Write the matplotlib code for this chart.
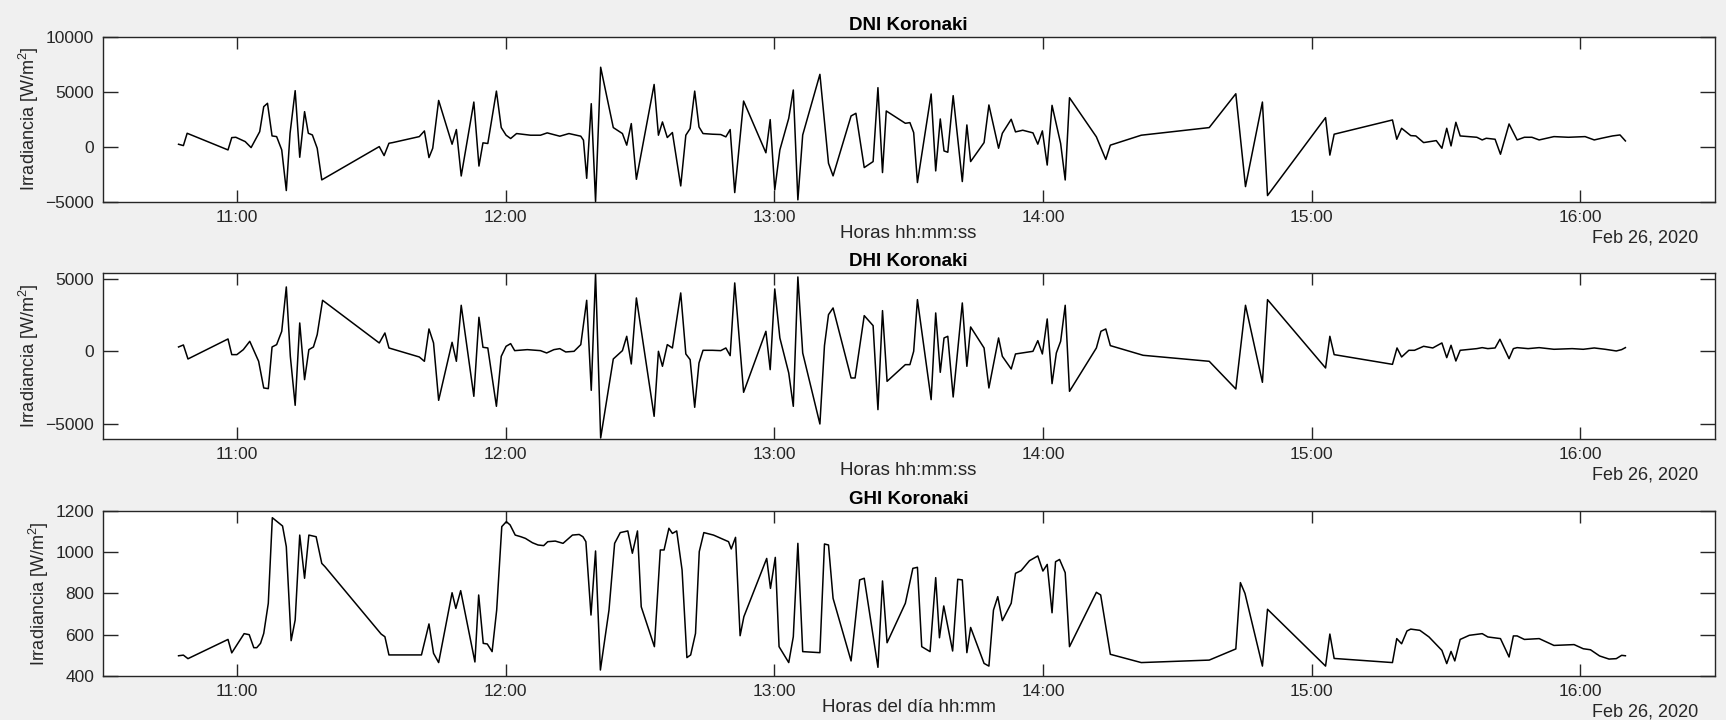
import pandas as pd
import matplotlib
matplotlib.use('Agg')
import matplotlib.pyplot as plt
import matplotlib.dates as mdates

plt.rcParams['font.family'] = ['Liberation Sans', 'DejaVu Sans']
plt.rcParams['mathtext.fontset'] = 'custom'
plt.rcParams['mathtext.rm'] = 'Liberation Sans'
plt.rcParams['mathtext.default'] = 'regular'

# Hora del dia (decimal) y valores
dni_hours = [10.783, 10.801, 10.815, 10.967, 10.981, 10.996, 11.031, 11.053, 11.085, 11.100,
             11.114, 11.131, 11.148, 11.167, 11.184, 11.198, 11.217, 11.234, 11.252, 11.266,
             11.281, 11.299, 11.316, 11.530, 11.548, 11.566, 11.580, 11.679, 11.698, 11.715,
             11.729, 11.751, 11.801, 11.817, 11.835, 11.882, 11.901, 11.916, 11.934, 11.966,
             11.984, 12.002, 12.019, 12.041, 12.093, 12.130, 12.155, 12.202, 12.236, 12.280,
             12.290, 12.302, 12.319, 12.335, 12.354, 12.401, 12.435, 12.451, 12.468, 12.487,
             12.553, 12.569, 12.584, 12.602, 12.621, 12.652, 12.671, 12.687, 12.704, 12.720,
             12.735, 12.770, 12.801, 12.820, 12.836, 12.853, 12.886, 12.969, 12.985, 13.002,
             13.021, 13.054, 13.071, 13.088, 13.106, 13.170, 13.202, 13.219, 13.286, 13.304,
             13.335, 13.368, 13.386, 13.403, 13.417, 13.488, 13.505, 13.519, 13.533, 13.584,
             13.601, 13.618, 13.632, 13.646, 13.666, 13.700, 13.717, 13.731, 13.781, 13.799,
             13.835, 13.849, 13.882, 13.898, 13.925, 13.963, 13.981, 13.998, 14.016, 14.034,
             14.066, 14.083, 14.099, 14.199, 14.234, 14.251, 14.366, 14.619, 14.718, 14.754,
             14.817, 14.836, 15.052, 15.068, 15.084, 15.301, 15.317, 15.335, 15.369, 15.388,
             15.417, 15.464, 15.485, 15.503, 15.519, 15.537, 15.553, 15.615, 15.635, 15.650,
             15.683, 15.703, 15.735, 15.765, 15.792, 15.820, 15.847, 15.902, 15.956, 16.018,
             16.052, 16.079, 16.120, 16.148, 16.168]
dni_values = [212, 91, 1212, -303, 818, 848, 455, -91, 1360, 3636,
              3939, 970, 909, -303, -4000, 1212, 5090, -970, 3180, 1212,
              1060, -150, -3030, 0, -818, 303, 364, 909, 1424, -1000,
              -150, 4200, 216, 1550, -2675, 4054, -1771, 342, 282, 5050,
              1730, 1036, 735, 1187, 1036, 1036, 1248, 946, 1187, 946,
              584, -2887, 3904, -5000, 7223, 1730, 1187, 131, 2093, -2977,
              5654, 1036, 2244, 825, 1278, -3581, 1036, 1640, 5050, 1791,
              1187, 1127, 1097, 886, 1550, -4185, 4145, -563, 2455, -3943,
              -303, 2575, 5150, -4848, 1060, 6575, -1515, -2666, 2787, 3030,
              -1909, -1363, 5363, -2363, 3242, 2121, 2182, 1273, -3272, 4787,
              -2212, 2515, -394, -515, 4636, -3181, 1970, -1363, 364, 3788,
              -150, 1212, 2485, 1338, 1489, 1248, 222, 1429, -1680, 3753,
              282, -3038, 4447, 886, -1167, 131, 1036, 1730, 4809, -3641,
              4054, -4456, 2636, -774, 1127, 2424, 667, 1667, 1000, 970,
              364, 545, -150, 1667, 61, 2212, 970, 848, 606, 758,
              667, -697, 2060, 606, 848, 848, 606, 909, 848, 909,
              606, 758, 970, 1060, 515]

dhi_hours = [10.783, 10.801, 10.818, 10.967, 10.981, 11.000, 11.024, 11.048, 11.081, 11.100,
             11.117, 11.131, 11.148, 11.167, 11.184, 11.199, 11.217, 11.234, 11.252, 11.268,
             11.285, 11.299, 11.319, 11.530, 11.551, 11.566, 11.679, 11.698, 11.715, 11.732,
             11.751, 11.801, 11.817, 11.835, 11.882, 11.901, 11.916, 11.934, 11.966, 11.984,
             12.002, 12.019, 12.034, 12.081, 12.130, 12.153, 12.180, 12.202, 12.224, 12.255,
             12.280, 12.302, 12.319, 12.335, 12.354, 12.401, 12.435, 12.451, 12.468, 12.487,
             12.553, 12.569, 12.584, 12.602, 12.621, 12.652, 12.671, 12.687, 12.704, 12.720,
             12.735, 12.770, 12.801, 12.820, 12.836, 12.853, 12.886, 12.969, 12.985, 13.002,
             13.021, 13.054, 13.071, 13.088, 13.106, 13.170, 13.187, 13.202, 13.219, 13.286,
             13.301, 13.335, 13.368, 13.386, 13.403, 13.420, 13.488, 13.505, 13.519, 13.533,
             13.584, 13.601, 13.618, 13.632, 13.646, 13.666, 13.700, 13.717, 13.731, 13.781,
             13.799, 13.835, 13.849, 13.882, 13.898, 13.963, 13.981, 13.998, 14.016, 14.034,
             14.050, 14.066, 14.083, 14.099, 14.199, 14.216, 14.234, 14.251, 14.373, 14.619,
             14.718, 14.754, 14.817, 14.836, 15.052, 15.068, 15.084, 15.301, 15.318, 15.335,
             15.362, 15.383, 15.417, 15.451, 15.485, 15.503, 15.519, 15.537, 15.553, 15.615,
             15.635, 15.656, 15.683, 15.701, 15.735, 15.751, 15.765, 15.806, 15.847, 15.902,
             15.970, 16.011, 16.052, 16.093, 16.134, 16.154, 16.168]
dhi_values = [300, 438, -530, 852, -230, -230, 115, 691, -691, -2534,
              -2580, 300, 461, 1382, 4447, -345, -3732, 1958, -1958, 115,
              300, 1152, 3525, 576, 1267, 230, -392, -691, 1544, 576,
              -3387, 622, -691, 3180, -3110, 2350, 277, 230, -3801, -345,
              346, 530, 46, 115, 46, -115, 115, 184, -46, 0,
              461, 3525, -2695, 5369, -5990, -530, 46, 1037, -875, 3687,
              -4493, 0, -1037, 461, 230, 4033, -184, -576, -3870, -806,
              69, 69, 46, 230, -300, 4724, -2833, 1382, -1267, 4309,
              922, -1498, -3802, 5138, -115, -5023, 392, 2534, 2995, -1843,
              -1843, 2465, 1774, -4032, 2811, -2074, -922, -922, 0, 3571,
              -3341, 2650, -1452, 922, 1037, -3157, 3341, -1037, 1682, 230,
              -2534, 922, -345, -1221, -184, 0, 737, -184, 2235, -2235,
              -115, 691, 3180, -2765, 230, 1382, 1544, 392, -276, -691,
              -2604, 3180, -2143, 3571, -1152, 1037, -230, -901, 231, -393,
              69, 69, 346, 231, 577, -439, 416, -670, 69, 185,
              254, 185, 231, 832, -508, 185, 254, 185, 254, 139,
              185, 139, 231, 139, 23, 116, 254]

ghi_hours = [10.783, 10.801, 10.818, 10.967, 10.981, 11.027, 11.046, 11.063, 11.074, 11.088,
             11.100, 11.117, 11.132, 11.170, 11.184, 11.202, 11.217, 11.234, 11.252, 11.268,
             11.295, 11.316, 11.328, 11.537, 11.551, 11.566, 11.687, 11.715, 11.732, 11.751,
             11.801, 11.815, 11.833, 11.886, 11.900, 11.917, 11.932, 11.950, 11.967, 11.986,
             12.003, 12.017, 12.036, 12.057, 12.074, 12.100, 12.121, 12.142, 12.157, 12.185,
             12.214, 12.249, 12.274, 12.288, 12.299, 12.318, 12.335, 12.353, 12.385, 12.406,
             12.427, 12.455, 12.472, 12.491, 12.505, 12.554, 12.576, 12.590, 12.608, 12.621,
             12.637, 12.657, 12.675, 12.689, 12.707, 12.721, 12.738, 12.774, 12.830, 12.840,
             12.856, 12.873, 12.887, 12.972, 12.986, 13.004, 13.018, 13.054, 13.071, 13.088,
             13.106, 13.170, 13.187, 13.202, 13.219, 13.286, 13.318, 13.335, 13.386, 13.403,
             13.420, 13.488, 13.516, 13.533, 13.549, 13.580, 13.601, 13.615, 13.631, 13.664,
             13.683, 13.700, 13.717, 13.731, 13.781, 13.799, 13.816, 13.832, 13.849, 13.882,
             13.898, 13.919, 13.950, 13.981, 14.000, 14.016, 14.034, 14.047, 14.062, 14.083,
             14.099, 14.199, 14.215, 14.251, 14.366, 14.619, 14.718, 14.735, 14.752, 14.817,
             14.836, 15.052, 15.068, 15.084, 15.301, 15.317, 15.335, 15.355, 15.369, 15.403,
             15.437, 15.485, 15.503, 15.519, 15.533, 15.553, 15.587, 15.635, 15.656, 15.703,
             15.735, 15.751, 15.765, 15.792, 15.847, 15.902, 15.977, 16.011, 16.038, 16.072,
             16.107, 16.134, 16.154, 16.168]
ghi_values = [498, 501, 484, 577, 512, 605, 600, 537, 537, 558,
              606, 752, 1166, 1126, 1026, 571, 671, 1082, 873, 1082,
              1074, 945, 929, 603, 590, 502, 502, 652, 510, 465,
              803, 727, 813, 468, 792, 558, 555, 518, 719, 1123,
              1147, 1131, 1082, 1074, 1066, 1045, 1034, 1031, 1050, 1053,
              1042, 1082, 1085, 1074, 1050, 695, 1005, 429, 719, 1042,
              1094, 1102, 994, 1102, 735, 542, 1010, 1010, 1115, 1090,
              1102, 913, 489, 502, 606, 1002, 1094, 1082, 1050, 1015,
              1071, 595, 687, 969, 824, 974, 542, 465, 590, 1042,
              518, 513, 1039, 1034, 776, 473, 865, 873, 442, 860,
              561, 752, 921, 926, 542, 518, 876, 585, 739, 521,
              868, 865, 513, 635, 461, 448, 719, 784, 668, 752,
              897, 910, 958, 981, 908, 940, 706, 953, 964, 900,
              542, 805, 792, 505, 465, 477, 531, 852, 800, 448,
              723, 448, 603, 485, 465, 581, 556, 618, 627, 621,
              589, 524, 460, 519, 473, 577, 597, 605, 589, 581,
              492, 594, 594, 577, 581, 548, 552, 532, 527, 497,
              482, 484, 500, 498]

titles = ['DNI Koronaki', 'DHI Koronaki', 'GHI Koronaki']
xlabels = ['Horas hh:mm:ss', 'Horas hh:mm:ss', 'Horas del día hh:mm']
y_limits = [(-5000, 10000), (-6060, 5415), (400, 1200)]
y_ticks = [[-5000, 0, 5000, 10000], [-5000, 0, 5000], [400, 600, 800, 1000, 1200]]

day = pd.Timestamp('2020-02-26')


def to_time(hours):
    return day + pd.to_timedelta(hours, unit='h')


series = [(dni_hours, dni_values), (dhi_hours, dhi_values), (ghi_hours, ghi_values)]
# [left, bottom, width, height] en fracciones de la figura
positions = [[0.0594, 0.7201, 0.9340, 0.2289],
             [0.0594, 0.3903, 0.9340, 0.2306],
             [0.0594, 0.0611, 0.9340, 0.2296]]

text_gray = '#262626'
fig = plt.figure(figsize=(17.26, 7.2), dpi=100, facecolor='#f0f0f0')

for i, (hours, values) in enumerate(series):
    ax = fig.add_axes(positions[i])
    ax.set_facecolor('white')
    ax.plot(to_time(hours), values, color='black', linewidth=1.1)

    ax.set_xlim(to_time(10.5), to_time(16.5))
    ax.set_ylim(*y_limits[i])
    ax.set_yticks(y_ticks[i])
    ax.xaxis.set_major_locator(mdates.HourLocator(byhour=range(11, 17)))
    ax.xaxis.set_major_formatter(mdates.DateFormatter('%H:%M'))

    ax.tick_params(axis='both', direction='in', top=True, right=True,
                   labelsize=12.5, labelcolor=text_gray, color=text_gray,
                   width=1.0, pad=6)
    ax.tick_params(axis='x', length=8.4)
    ax.tick_params(axis='y', length=10.5)
    for spine in ax.spines.values():
        spine.set_color(text_gray)
        spine.set_linewidth(1.0)

    ax.set_title(titles[i], fontsize=13.5, fontweight='bold', color='black', pad=5)
    ax.set_xlabel(xlabels[i], fontsize=13.5, color=text_gray, labelpad=0)
    ax.set_ylabel('Irradiancia [W/m$^2$]', fontsize=13, color=text_gray, labelpad=3)
    ax.annotate('Feb 26, 2020', xy=(0.99, 0), xycoords='axes fraction',
                xytext=(0, -36), textcoords='offset pixels',
                ha='right', va='center', fontsize=13, color=text_gray)

fig.savefig('out.png', dpi=100, facecolor=fig.get_facecolor())
plt.close(fig)
